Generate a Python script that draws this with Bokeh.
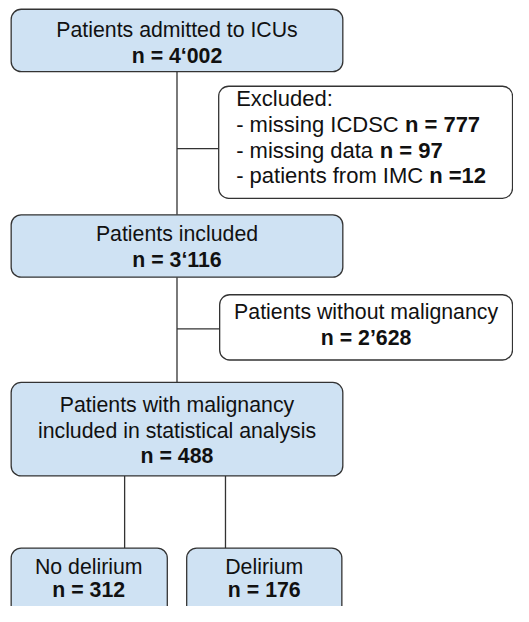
from bokeh.plotting import figure
from bokeh.models import Range1d
from bokeh.core.properties import value
from bokeh.embed import file_html
from bokeh.resources import INLINE

# ---------------- data (texts and counts) ----------------
admitted_label = "Patients admitted to ICUs"
admitted_n = "n = 4\u2018002"
excluded_title = "Excluded:"
excluded_reasons = ["- missing ICDSC", "- missing data", "- patients from IMC"]
excluded_counts = ["n = 777", "n = 97", "n =12"]
included_label = "Patients included"
included_n = "n = 3\u2018116"
nonmalig_label = "Patients without malignancy"
nonmalig_n = "n = 2\u2019628"
malig_label = ["Patients with malignancy", "included in statistical analysis"]
malig_n = "n = 488"
outcome_labels = ["No delirium", "Delirium"]
outcome_counts = ["n = 312", "n = 176"]

# ---------------- layout ----------------
FONT = value("Liberation Sans")
FS = "21.3px"
FS_EX = "22px"
BLUE = "#cfe2f3"
EDGE = "#333333"
TXT = "#111111"
SHIFT = 7.5  # baseline correction (data units)

p = figure(width=513, height=606, x_range=Range1d(0, 529), y_range=Range1d(622, 0),
           output_backend="svg", toolbar_location=None, min_border=0,
           outline_line_color=None, background_fill_color="white", border_fill_color="white")
p.axis.visible = False
p.grid.visible = False

# connectors
xs0 = [182, 182, 182, 182, 128, 232]
ys0 = [73, 152, 284, 337, 488, 488]
xs1 = [182, 225, 182, 226, 128, 232]
ys1 = [220, 152, 392, 337, 562, 562]
p.segment(x0=xs0, y0=ys0, x1=xs1, y1=ys1, line_color=EDGE, line_width=1.3)

# boxes: left, right, top, bottom
boxes = [
    (11, 353, 9, 73, BLUE),
    (225, 528, 88, 203, "white"),
    (11, 353, 220, 284, BLUE),
    (226, 528, 302, 369, "white"),
    (11, 353, 392, 488, BLUE),
    (11, 172, 562, 660, BLUE),
    (192, 352, 562, 660, BLUE),
]
p.quad(left=[b[0] for b in boxes], right=[b[1] for b in boxes],
       top=[b[2] for b in boxes], bottom=[b[3] for b in boxes],
       fill_color=[b[4] for b in boxes], line_color=EDGE, line_width=1.3,
       border_radius=10)

def label(x, y, t, bold=False, align="center", fs=FS):
    p.text(x=[x], y=[y - SHIFT], text=[t], text_font=FONT, text_font_size=fs,
           text_font_style="bold" if bold else "normal", text_color=TXT,
           text_align=align, text_baseline="alphabetic")

# box 1
label(182, 38, admitted_label)
label(182, 64, admitted_n, bold=True)
# excluded box
label(243, 108, excluded_title, align="left", fs=FS_EX)
ex_y = [135, 161, 187]
bold_x = [417, 391, 442]
for r, c, y, bx in zip(excluded_reasons, excluded_counts, ex_y, bold_x):
    label(243, y, r, align="left", fs=FS_EX)
    label(bx, y, c, bold=True, align="left", fs=FS_EX)
# box 3
label(182, 247, included_label)
label(182, 274, included_n, bold=True)
# box 4
label(377, 327, nonmalig_label)
label(377, 354, nonmalig_n, bold=True)
# box 5
label(182, 423, malig_label[0])
label(182, 449, malig_label[1])
label(182, 475, malig_n, bold=True)
# outcomes
for cx, lab, n in zip([91, 272], outcome_labels, outcome_counts):
    label(cx, 589, lab)
    label(cx, 613, n, bold=True)

open("out.html", "w").write(file_html(p, INLINE))
